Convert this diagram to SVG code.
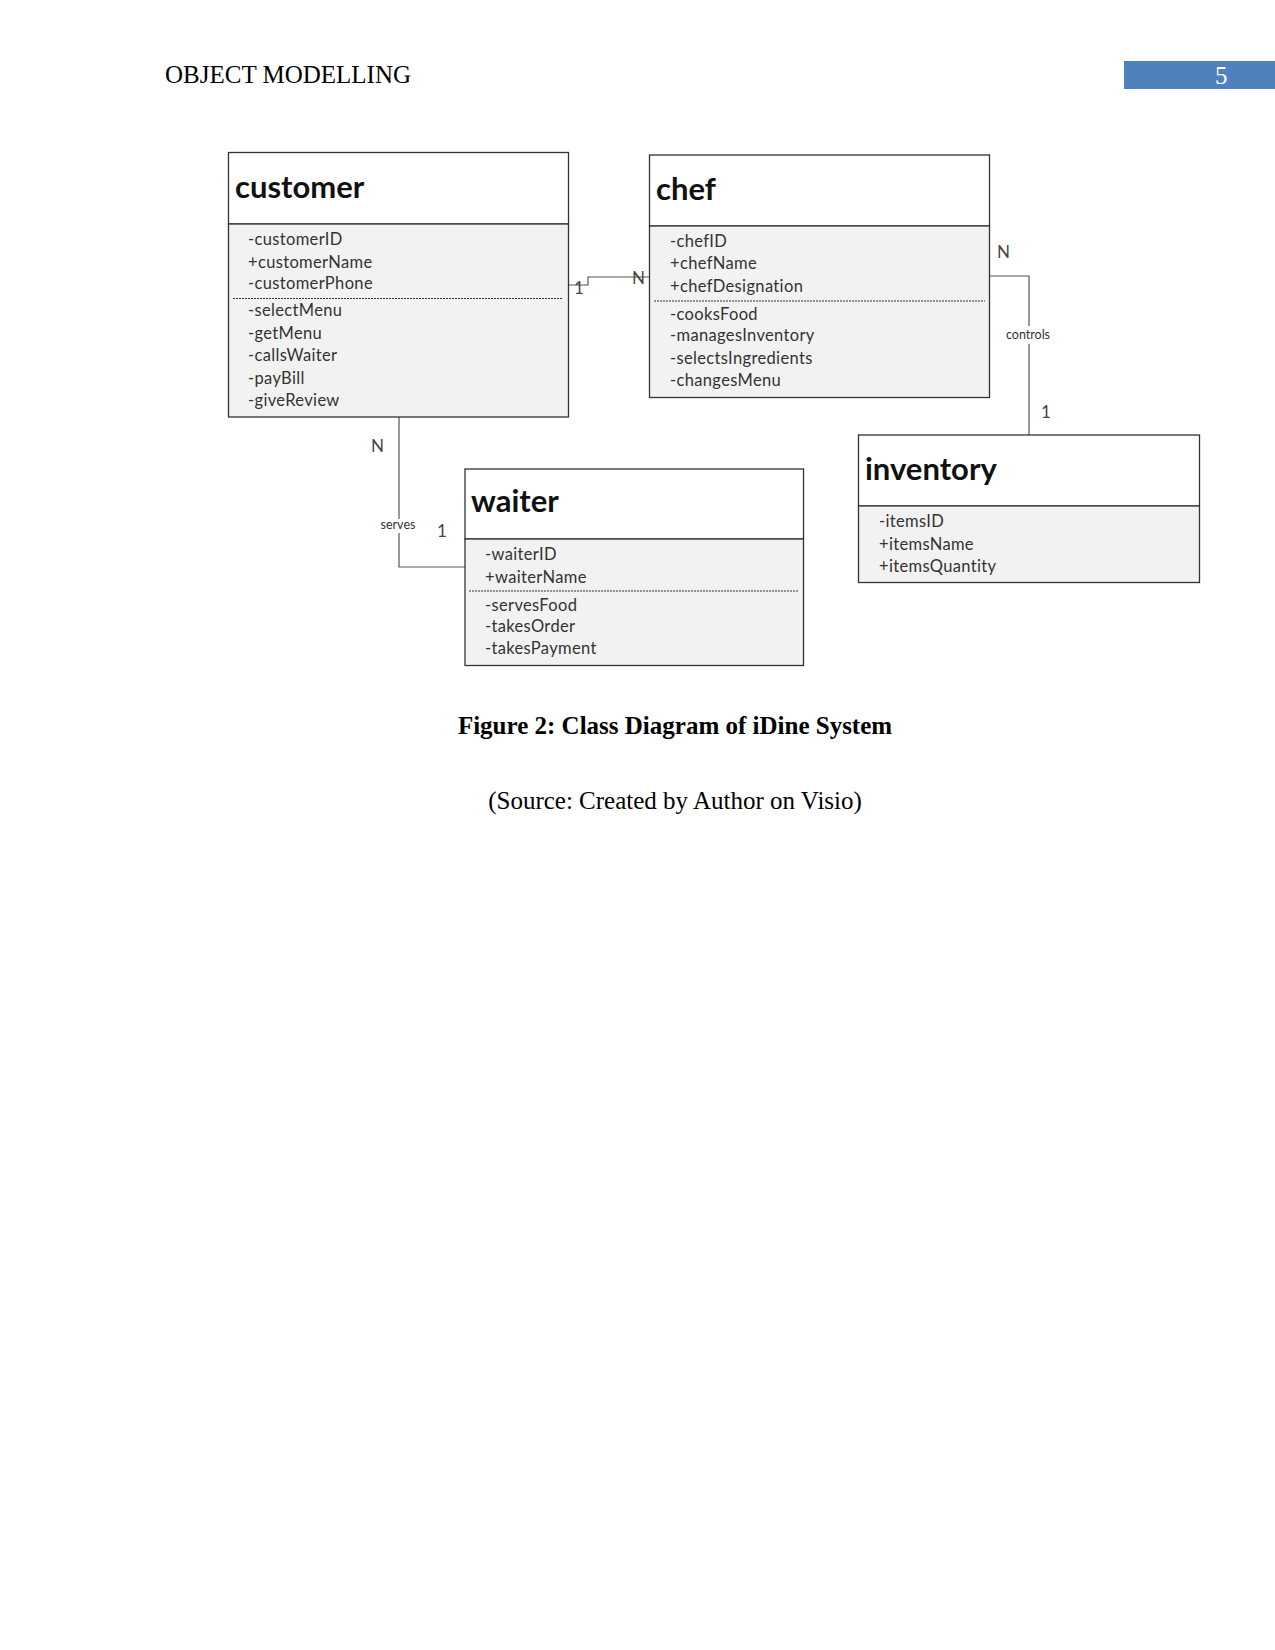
<svg xmlns="http://www.w3.org/2000/svg" width="1275" height="1650" viewBox="0 0 1275 1650">
<style>
.page{fill:#ffffff}
.hdr{font-family:"Liberation Serif","Times New Roman",serif;font-size:25px;fill:#000}
.cap{font-family:"Liberation Serif","Times New Roman",serif;font-size:25px;fill:#000;text-anchor:middle}
.capb{font-weight:bold}
.head{fill:#ffffff;stroke:#333;stroke-width:1.3}
.body{fill:#f2f2f2;stroke:#333;stroke-width:1.3}
.title{font-family:Lato,"Liberation Sans",sans-serif;font-weight:bold;font-size:31px;fill:#111}
.attr{font-family:Lato,"Liberation Sans",sans-serif;font-size:16.5px;letter-spacing:0.35px;fill:#333}
.dash{stroke:#333;stroke-width:1;stroke-dasharray:2,1;fill:none}
.conn{stroke:#555;stroke-width:1.2;fill:none}
.mult{font-family:Lato,"Liberation Sans",sans-serif;font-size:17px;fill:#444}
.lbl{font-family:Lato,"Liberation Sans",sans-serif;font-size:12.5px;fill:#333;text-anchor:middle}
</style>
<rect class="page" x="0" y="0" width="1275" height="1650"/>
<text class="hdr" x="165" y="83">OBJECT MODELLING</text>
<rect x="1124" y="61" width="151" height="28" fill="#4f81bd"/>
<text class="hdr" x="1215" y="84" style="fill:#ffffff">5</text>

<g id="connectors">
  <polyline class="conn" points="568,285 588,285 588,277 649,277"/>
  <polyline class="conn" points="989,276 1029,276 1029,326"/>
  <polyline class="conn" points="1029,344 1029,435"/>
  <polyline class="conn" points="399,417 399,519"/>
  <polyline class="conn" points="399,533 399,567 465,567"/>
  <text class="mult" x="574" y="294">1</text>
  <text class="mult" x="632" y="284">N</text>
  <text class="mult" x="997" y="258">N</text>
  <text class="lbl" x="1028" y="339">controls</text>
  <text class="mult" x="1041" y="418">1</text>
  <text class="mult" x="371" y="452">N</text>
  <text class="lbl" x="398" y="529">serves</text>
  <text class="mult" x="437" y="537">1</text>
</g>

<g id="customer">
  <rect class="head" x="228.5" y="152.5" width="340" height="71.5"/>
  <rect class="body" x="228.5" y="224" width="340" height="193"/>
  <line class="dash" x1="233" y1="298.5" x2="563" y2="298.5"/>
  <text class="title" x="235" y="198">customer</text>
  <text class="attr" x="248" y="245">-customerID</text>
  <text class="attr" x="248" y="268">+customerName</text>
  <text class="attr" x="248" y="289">-customerPhone</text>
  <text class="attr" x="248" y="316">-selectMenu</text>
  <text class="attr" x="248" y="339">-getMenu</text>
  <text class="attr" x="248" y="361">-callsWaiter</text>
  <text class="attr" x="248" y="384">-payBill</text>
  <text class="attr" x="248" y="406">-giveReview</text>
</g>

<g id="chef">
  <rect class="head" x="649.5" y="155" width="340" height="71"/>
  <rect class="body" x="649.5" y="226" width="340" height="171.5"/>
  <line class="dash" x1="654" y1="301" x2="985" y2="301"/>
  <text class="title" x="656" y="200">chef</text>
  <text class="attr" x="670" y="247">-chefID</text>
  <text class="attr" x="670" y="269">+chefName</text>
  <text class="attr" x="670" y="292">+chefDesignation</text>
  <text class="attr" x="670" y="320">-cooksFood</text>
  <text class="attr" x="670" y="341">-managesInventory</text>
  <text class="attr" x="670" y="364">-selectsIngredients</text>
  <text class="attr" x="670" y="386">-changesMenu</text>
</g>

<g id="inventory">
  <rect class="head" x="858.5" y="435" width="341" height="71"/>
  <rect class="body" x="858.5" y="506" width="341" height="76.5"/>
  <text class="title" x="865" y="480">inventory</text>
  <text class="attr" x="879" y="527">-itemsID</text>
  <text class="attr" x="879" y="550">+itemsName</text>
  <text class="attr" x="879" y="572">+itemsQuantity</text>
</g>

<g id="waiter">
  <rect class="head" x="465" y="469" width="338.5" height="70"/>
  <rect class="body" x="465" y="539" width="338.5" height="126.5"/>
  <line class="dash" x1="469" y1="591" x2="799" y2="591"/>
  <text class="title" x="471" y="512">waiter</text>
  <text class="attr" x="485" y="560">-waiterID</text>
  <text class="attr" x="485" y="583">+waiterName</text>
  <text class="attr" x="485" y="611">-servesFood</text>
  <text class="attr" x="485" y="632">-takesOrder</text>
  <text class="attr" x="485" y="654">-takesPayment</text>
</g>

<text class="cap capb" x="675" y="734">Figure 2: Class Diagram of iDine System</text>
<text class="cap" x="675" y="809">(Source: Created by Author on Visio)</text>
</svg>
